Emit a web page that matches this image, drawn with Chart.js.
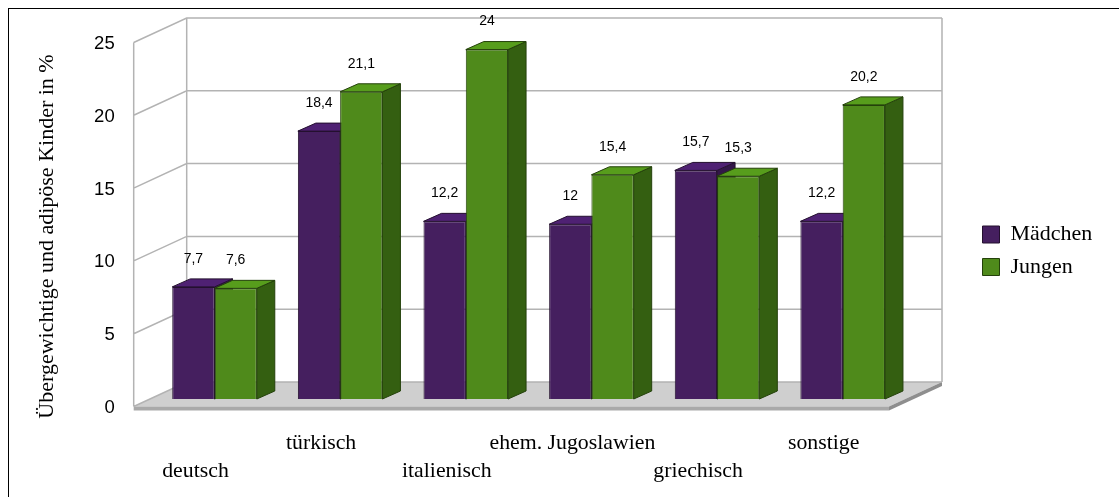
<!DOCTYPE html>
<html lang="de">
<head>
<meta charset="utf-8">
<title>Übergewichtige und adipöse Kinder</title>
<script src="https://cdn.jsdelivr.net/npm/chart.js@4/dist/chart.umd.min.js"></script>
<style>
    html, body { margin: 0; padding: 0; background: #fff; overflow: hidden; }
    #frame { position: absolute; left: 8px; top: 8px; right: 0; bottom: 0; border-left: 1px solid #000; border-top: 1px solid #000; }
    #chart-box { position: absolute; left: 0; top: 0; width: 1119px; height: 497px; }
</style>
</head>
<body>
<div id="frame"></div>
<div id="chart-box"><canvas id="bmiChart" width="1119" height="497"></canvas></div>
<script>
const categories = ["deutsch", "türkisch", "italienisch", "ehem. Jugoslawien", "griechisch", "sonstige"];
const maedchen = [7.7, 18.4, 12.2, 12, 15.7, 12.2];
const jungen = [7.6, 21.1, 24, 15.4, 15.3, 20.2];
const seriesNames = ["Mädchen", "Jungen"];
const yTicks = [0, 5, 10, 15, 20, 25];
const yTitle = "Übergewichtige und adipöse Kinder in %";

const SERIF = "'Liberation Serif', serif";
const SANS = "'Liberation Sans', sans-serif";

// depth of one bar, and where the wall and the front axis sit relative to the bar plane
const BAR_DX = 18, BAR_DY = 8;
const WALL_DX = 35, WALL_DY = 17;
const AXIS_DX = 18, AXIS_DY = 7.5;
const WALL_RIGHT = 942;

const barColors = [
    { top: "#4f2173", side: "#331649", edge: "#24102f" },
    { top: "#579d1c", side: "#345f11", edge: "#24410b" }
];

function poly(ctx, pts, fill, stroke, width) {
    ctx.beginPath();
    pts.forEach((p, i) => i ? ctx.lineTo(p[0], p[1]) : ctx.moveTo(p[0], p[1]));
    ctx.closePath();
    if (fill) { ctx.fillStyle = fill; ctx.fill(); }
    if (stroke) { ctx.strokeStyle = stroke; ctx.lineWidth = width || 1; ctx.stroke(); }
}

// back wall, left wall and floor behind the bars
const roomPlugin = {
    id: "room",
    beforeDatasetsDraw(chart) {
        const ctx = chart.ctx;
        const y = chart.scales.y;
        const left = chart.chartArea.left;
        const backX = left + WALL_DX, frontX = left - AXIS_DX;
        const grid = "#b3b3b3";
        const floorBack = y.getPixelForValue(0) - WALL_DY;
        const floorFront = y.getPixelForValue(0) + AXIS_DY;
        const frontRight = WALL_RIGHT - (backX - frontX);

        ctx.save();
        poly(ctx, [[frontX, floorFront], [backX, floorBack], [WALL_RIGHT, floorBack], [frontRight, floorFront]], "#cfcfcf");
        poly(ctx, [[frontX, floorFront], [frontRight, floorFront], [frontRight, floorFront + 4], [frontX, floorFront + 4]], "#a9a9a9");
        poly(ctx, [[frontRight, floorFront], [WALL_RIGHT, floorBack], [WALL_RIGHT, floorBack + 4], [frontRight, floorFront + 4]], "#8e8e8e");

        ctx.strokeStyle = grid;
        ctx.lineWidth = 1.5;
        ctx.beginPath();
        yTicks.forEach(t => {
            const py = y.getPixelForValue(t);
            ctx.moveTo(frontX, py + AXIS_DY);
            ctx.lineTo(backX, py - WALL_DY);
            ctx.lineTo(WALL_RIGHT, py - WALL_DY);
        });
        const topY = y.getPixelForValue(yTicks[yTicks.length - 1]);
        ctx.moveTo(frontX, floorFront);
        ctx.lineTo(frontX, topY + AXIS_DY);
        ctx.moveTo(backX, floorBack);
        ctx.lineTo(backX, topY - WALL_DY);
        ctx.moveTo(WALL_RIGHT, floorBack);
        ctx.lineTo(WALL_RIGHT, topY - WALL_DY);
        ctx.stroke();

        // top and side of each bar, girls first so the boys' tops lie over them
        chart.data.datasets.forEach((ds, di) => {
            const c = barColors[di];
            chart.getDatasetMeta(di).data.forEach(bar => {
                const x0 = bar.x - bar.width / 2, x1 = bar.x + bar.width / 2;
                const t = bar.y, b = bar.base;
                poly(ctx, [[x1, t], [x1 + BAR_DX, t - BAR_DY], [x1 + BAR_DX, b - BAR_DY], [x1, b]], c.side, c.edge);
                poly(ctx, [[x0, t], [x0 + BAR_DX, t - BAR_DY], [x1 + BAR_DX, t - BAR_DY], [x1, t]], c.top, c.edge);
            });
        });
        ctx.restore();
    },
    afterDatasetsDraw(chart) {
        const ctx = chart.ctx;
        ctx.save();
        ctx.font = "14px " + SANS;
        ctx.fillStyle = "#000";
        ctx.textAlign = "center";
        ctx.textBaseline = "middle";
        chart.data.datasets.forEach((ds, di) => {
            chart.getDatasetMeta(di).data.forEach((bar, i) => {
                ctx.fillText(String(ds.data[i]).replace(".", ","), bar.x, bar.y - 28);
            });
        });
        ctx.restore();
    },
    afterLayout(chart) {
        // legend sits outside the plot, to the right of the room
        const lg = chart.legend;
        lg.left = 972;
        lg.right = 1110;
        lg.top = 213;
        lg.bottom = 300;
    },
    afterDraw(chart) {
        const ctx = chart.ctx;
        ctx.save();
        ctx.translate(47, 236.5);
        ctx.rotate(-Math.PI / 2);
        ctx.font = "22px " + SERIF;
        ctx.fillStyle = "#000";
        ctx.textAlign = "center";
        ctx.textBaseline = "middle";
        ctx.fillText(yTitle, 0, 0);
        ctx.restore();
    }
};

new Chart(document.getElementById("bmiChart"), {
    type: "bar",
    data: {
        labels: categories,
        datasets: [
            { label: seriesNames[0], data: maedchen, backgroundColor: "#451f5f", borderColor: barColors[0].edge, borderWidth: 1 },
            { label: seriesNames[1], data: jungen, backgroundColor: "#4f8a1b", borderColor: barColors[1].edge, borderWidth: 1 }
        ]
    },
    options: {
        responsive: false,
        animation: false,
        layout: { padding: { left: 0, right: 213.5, top: 35, bottom: 0 } },
        datasets: { bar: { barPercentage: 1, categoryPercentage: 0.673 } },
        scales: {
            x: {
                grid: { display: false },
                border: { display: false },
                afterFit(scale) {
                    scale.height = 98;
                    scale.paddingLeft = scale.paddingRight = 0;
                },
                ticks: {
                    color: "#000",
                    font: { family: SERIF, size: 21.8, lineHeight: "28px" },
                    padding: 22,
                    labelOffset: -19,
                    autoSkip: false,
                    minRotation: 0,
                    maxRotation: 0,
                    // every other label drops to a second row
                    callback(value, index) {
                        const name = categories[index];
                        return index % 2 === 0 ? ["", name] : [name, ""];
                    }
                }
            },
            y: {
                min: 0,
                max: 25,
                grid: { display: false, drawTicks: false },
                border: { display: false },
                afterFit(scale) {
                    scale.width = 151.7;
                    scale.paddingTop = scale.paddingBottom = 0;
                },
                afterBuildTicks(scale) { scale.ticks = yTicks.map(v => ({ value: v })); },
                ticks: {
                    color: "#000",
                    font: { family: SANS, size: 18.5 },
                    padding: 37,
                    labelOffset: 9
                }
            }
        },
        plugins: {
            tooltip: { enabled: false },
            legend: {
                position: "chartArea",
                align: "start",
                labels: {
                    boxWidth: 17,
                    boxHeight: 17,
                    padding: 10.5,
                    color: "#000",
                    font: { family: SERIF, size: 22 }
                }
            }
        }
    },
    plugins: [roomPlugin]
});
</script>
</body>
</html>
